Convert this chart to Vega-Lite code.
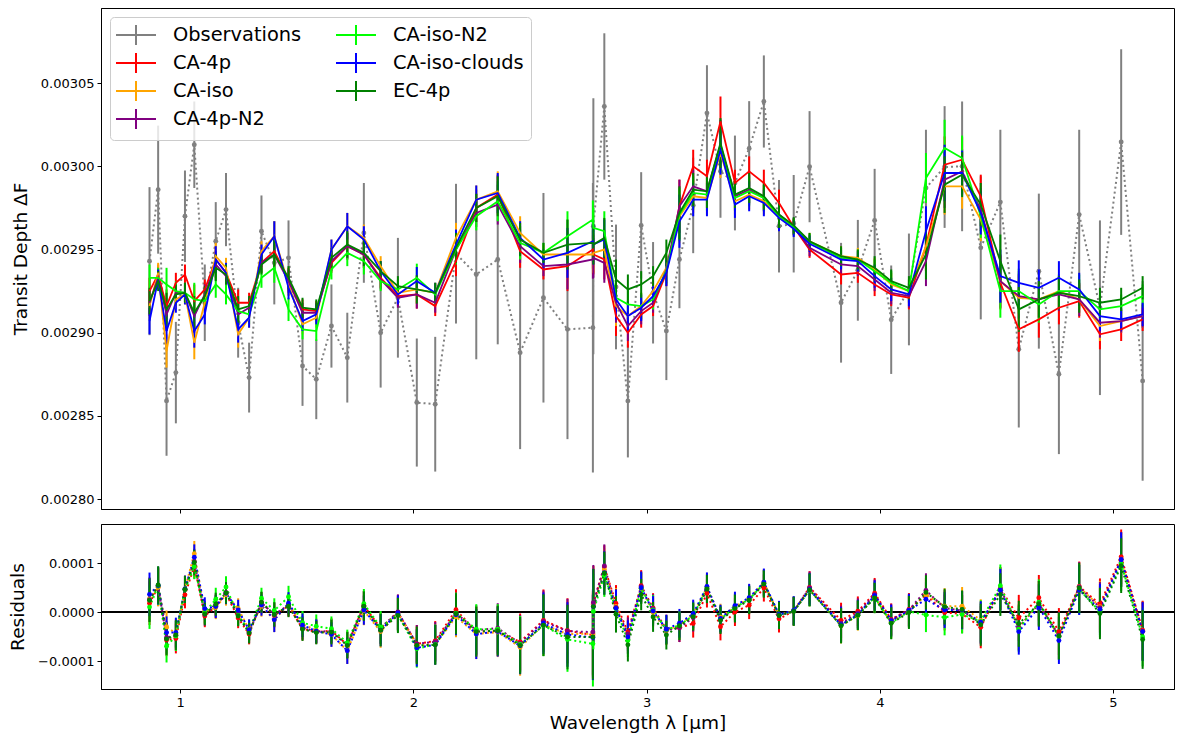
{
  "$schema": "https://vega.github.io/schema/vega-lite/v6.json",
  "padding": {"left": 8, "top": 7, "right": 5, "bottom": 4},
  "config": {
    "font": "DejaVu Sans",
    "view": {"stroke": "black", "strokeWidth": 1},
    "axis": {"labelFont": "DejaVu Sans", "titleFont": "DejaVu Sans", "labelFontSize": 13, "titleFontSize": 18.5, "titleFontWeight": "normal", "labelColor": "black", "titleColor": "black", "tickColor": "black", "domainColor": "black", "tickSize": 4, "labelPadding": 3, "grid": false},
    "legend": {"labelFont": "DejaVu Sans", "labelFontSize": 19.4, "labelColor": "black", "symbolType": "M-2,0H2M0,-1V1", "symbolSize": 400, "symbolStrokeWidth": 2, "symbolOffset": 8, "labelOffset": 26, "rowPadding": 0, "columnPadding": 30, "padding": 7, "fillColor": "rgba(255,255,255,0.8)", "strokeColor": "#cccccc", "cornerRadius": 4, "orient": "top-left", "offset": 9, "columns": 2, "labelLimit": 400}
  },
  "datasets": {
    "depth": [
      {"wl":0.869,"obs":0.002943,"oerr":0.0000445,"merr":0.000008,"CA-4p":0.002925,"CA-iso":0.002916,"CA-4p-N2":0.002918,"CA-iso-N2":0.002933,"CA-iso-clouds":0.002907,"EC-4p":0.002919},
      {"wl":0.906,"obs":0.002986,"oerr":0.0000385,"merr":0.000006,"CA-4p":0.002935,"CA-iso":0.002936,"CA-4p-N2":0.002933,"CA-iso-N2":0.002933,"CA-iso-clouds":0.002932,"EC-4p":0.002931},
      {"wl":0.942,"obs":0.002859,"oerr":0.000033,"merr":0.00001,"CA-4p":0.002916,"CA-iso":0.002889,"CA-4p-N2":0.002911,"CA-iso-N2":0.002929,"CA-iso-clouds":0.002901,"EC-4p":0.002914},
      {"wl":0.982,"obs":0.002876,"oerr":0.0000305,"merr":0.000006,"CA-4p":0.00293,"CA-iso":0.00292,"CA-4p-N2":0.002924,"CA-iso-N2":0.002925,"CA-iso-clouds":0.002918,"EC-4p":0.002923},
      {"wl":1.021,"obs":0.00297,"oerr":0.0000275,"merr":0.000006,"CA-4p":0.002935,"CA-iso":0.002923,"CA-4p-N2":0.002924,"CA-iso-N2":0.002924,"CA-iso-clouds":0.002923,"EC-4p":0.002924},
      {"wl":1.061,"obs":0.003013,"oerr":0.000026,"merr":0.00001,"CA-4p":0.002919,"CA-iso":0.002894,"CA-4p-N2":0.00291,"CA-iso-N2":0.00292,"CA-iso-clouds":0.002901,"EC-4p":0.002912},
      {"wl":1.106,"obs":0.002918,"oerr":0.000023,"merr":0.000006,"CA-4p":0.002926,"CA-iso":0.002918,"CA-4p-N2":0.002923,"CA-iso-N2":0.002919,"CA-iso-clouds":0.002911,"EC-4p":0.002922},
      {"wl":1.153,"obs":0.002955,"oerr":0.0000235,"merr":0.000008,"CA-4p":0.002944,"CA-iso":0.002946,"CA-4p-N2":0.002941,"CA-iso-N2":0.002929,"CA-iso-clouds":0.002944,"EC-4p":0.002939},
      {"wl":1.197,"obs":0.002974,"oerr":0.000022,"merr":0.000006,"CA-4p":0.002936,"CA-iso":0.002939,"CA-4p-N2":0.002934,"CA-iso-N2":0.002923,"CA-iso-clouds":0.002936,"EC-4p":0.002935},
      {"wl":1.249,"obs":0.002906,"oerr":0.000021,"merr":0.000008,"CA-4p":0.002918,"CA-iso":0.002899,"CA-4p-N2":0.002911,"CA-iso-N2":0.002913,"CA-iso-clouds":0.002902,"EC-4p":0.002914},
      {"wl":1.296,"obs":0.002873,"oerr":0.000021,"merr":0.000006,"CA-4p":0.002918,"CA-iso":0.002909,"CA-4p-N2":0.002915,"CA-iso-N2":0.002911,"CA-iso-clouds":0.002909,"EC-4p":0.002916},
      {"wl":1.349,"obs":0.002961,"oerr":0.0000215,"merr":0.000006,"CA-4p":0.002942,"CA-iso":0.002949,"CA-4p-N2":0.002942,"CA-iso-N2":0.002933,"CA-iso-clouds":0.002947,"EC-4p":0.002941},
      {"wl":1.404,"obs":0.002942,"oerr":0.000025,"merr":0.000009,"CA-4p":0.002949,"CA-iso":0.002958,"CA-4p-N2":0.002947,"CA-iso-N2":0.002939,"CA-iso-clouds":0.002958,"EC-4p":0.002947},
      {"wl":1.465,"obs":0.002945,"oerr":0.0000225,"merr":0.000007,"CA-4p":0.002932,"CA-iso":0.002929,"CA-4p-N2":0.002931,"CA-iso-N2":0.002914,"CA-iso-clouds":0.002927,"EC-4p":0.002933},
      {"wl":1.525,"obs":0.00288,"oerr":0.000024,"merr":0.000006,"CA-4p":0.002914,"CA-iso":0.002905,"CA-4p-N2":0.002912,"CA-iso-N2":0.002902,"CA-iso-clouds":0.002907,"EC-4p":0.002915},
      {"wl":1.584,"obs":0.002872,"oerr":0.000024,"merr":0.000006,"CA-4p":0.002913,"CA-iso":0.002909,"CA-4p-N2":0.002912,"CA-iso-N2":0.002901,"CA-iso-clouds":0.002911,"EC-4p":0.002914},
      {"wl":1.649,"obs":0.002904,"oerr":0.000025,"merr":0.000006,"CA-4p":0.002942,"CA-iso":0.00295,"CA-4p-N2":0.002943,"CA-iso-N2":0.002938,"CA-iso-clouds":0.00295,"EC-4p":0.002945},
      {"wl":1.717,"obs":0.002885,"oerr":0.000027,"merr":0.000008,"CA-4p":0.002952,"CA-iso":0.002964,"CA-4p-N2":0.002952,"CA-iso-N2":0.002948,"CA-iso-clouds":0.002964,"EC-4p":0.002953},
      {"wl":1.788,"obs":0.00296,"oerr":0.00003,"merr":0.000008,"CA-4p":0.002947,"CA-iso":0.002957,"CA-4p-N2":0.002947,"CA-iso-N2":0.002943,"CA-iso-clouds":0.002956,"EC-4p":0.002948},
      {"wl":1.86,"obs":0.0029,"oerr":0.000033,"merr":0.000006,"CA-4p":0.002933,"CA-iso":0.00294,"CA-4p-N2":0.002932,"CA-iso-N2":0.002931,"CA-iso-clouds":0.002937,"EC-4p":0.002937},
      {"wl":1.934,"obs":0.002921,"oerr":0.000036,"merr":0.000006,"CA-4p":0.002922,"CA-iso":0.002924,"CA-4p-N2":0.002921,"CA-iso-N2":0.002926,"CA-iso-clouds":0.002923,"EC-4p":0.002928},
      {"wl":2.015,"obs":0.002858,"oerr":0.0000385,"merr":0.0000085,"CA-4p":0.002923,"CA-iso":0.002926,"CA-4p-N2":0.002923,"CA-iso-N2":0.002933,"CA-iso-clouds":0.002931,"EC-4p":0.002926},
      {"wl":2.094,"obs":0.002857,"oerr":0.0000405,"merr":0.000006,"CA-4p":0.002916,"CA-iso":0.002924,"CA-4p-N2":0.002918,"CA-iso-N2":0.002923,"CA-iso-clouds":0.002924,"EC-4p":0.002924},
      {"wl":2.183,"obs":0.0029475,"oerr":0.000042,"merr":0.000009,"CA-4p":0.002943,"CA-iso":0.002957,"CA-4p-N2":0.00295,"CA-iso-N2":0.00295,"CA-iso-clouds":0.002953,"EC-4p":0.002951},
      {"wl":2.27,"obs":0.002935,"oerr":0.000051,"merr":0.0000085,"CA-4p":0.002975,"CA-iso":0.00298,"CA-4p-N2":0.002972,"CA-iso-N2":0.00297,"CA-iso-clouds":0.00298,"EC-4p":0.002975},
      {"wl":2.362,"obs":0.002944,"oerr":0.000051,"merr":0.000012,"CA-4p":0.002983,"CA-iso":0.002985,"CA-4p-N2":0.002977,"CA-iso-N2":0.002979,"CA-iso-clouds":0.002984,"EC-4p":0.002982},
      {"wl":2.458,"obs":0.002888,"oerr":0.000058,"merr":0.00001,"CA-4p":0.002949,"CA-iso":0.00296,"CA-4p-N2":0.002952,"CA-iso-N2":0.002954,"CA-iso-clouds":0.002957,"EC-4p":0.002956},
      {"wl":2.558,"obs":0.002921,"oerr":0.000063,"merr":0.000006,"CA-4p":0.002938,"CA-iso":0.002947,"CA-4p-N2":0.00294,"CA-iso-N2":0.002948,"CA-iso-clouds":0.002944,"EC-4p":0.002948},
      {"wl":2.661,"obs":0.002902,"oerr":0.000066,"merr":0.000015,"CA-4p":0.00294,"CA-iso":0.002947,"CA-4p-N2":0.002941,"CA-iso-N2":0.002958,"CA-iso-clouds":0.002948,"EC-4p":0.002953},
      {"wl":2.77,"obs":0.002903,"oerr":0.000087,"merr":0.0000115,"CA-4p":0.00295,"CA-iso":0.002947,"CA-4p-N2":0.002944,"CA-iso-N2":0.002968,"CA-iso-clouds":0.002955,"EC-4p":0.002954},
      {"wl":2.772,"obs":0.002964,"oerr":0.000077,"merr":0.000012,"CA-4p":0.002947,"CA-iso":0.002948,"CA-4p-N2":0.002945,"CA-iso-N2":0.002963,"CA-iso-clouds":0.002953,"EC-4p":0.002953},
      {"wl":2.819,"obs":0.003036,"oerr":0.000044,"merr":0.000012,"CA-4p":0.002944,"CA-iso":0.00295,"CA-4p-N2":0.002942,"CA-iso-N2":0.002961,"CA-iso-clouds":0.002956,"EC-4p":0.002957},
      {"wl":2.869,"obs":0.0029275,"oerr":0.0000375,"merr":0.000012,"CA-4p":0.00291,"CA-iso":0.002916,"CA-4p-N2":0.002918,"CA-iso-N2":0.002921,"CA-iso-clouds":0.00292,"EC-4p":0.002932},
      {"wl":2.92,"obs":0.002859,"oerr":0.000034,"merr":0.000009,"CA-4p":0.0029,"CA-iso":0.00291,"CA-4p-N2":0.002904,"CA-iso-N2":0.002917,"CA-iso-clouds":0.00291,"EC-4p":0.002926},
      {"wl":2.977,"obs":0.0029645,"oerr":0.000032,"merr":0.000008,"CA-4p":0.002911,"CA-iso":0.002916,"CA-4p-N2":0.002913,"CA-iso-N2":0.002916,"CA-iso-clouds":0.002915,"EC-4p":0.002929},
      {"wl":3.028,"obs":0.002924,"oerr":0.0000305,"merr":0.000006,"CA-4p":0.002916,"CA-iso":0.002925,"CA-4p-N2":0.002918,"CA-iso-N2":0.00292,"CA-iso-clouds":0.002922,"EC-4p":0.002934},
      {"wl":3.085,"obs":0.002901,"oerr":0.0000295,"merr":0.000008,"CA-4p":0.002936,"CA-iso":0.002939,"CA-4p-N2":0.002938,"CA-iso-N2":0.002937,"CA-iso-clouds":0.002936,"EC-4p":0.002948},
      {"wl":3.141,"obs":0.002944,"oerr":0.0000293,"merr":0.000016,"CA-4p":0.002976,"CA-iso":0.00297,"CA-4p-N2":0.002976,"CA-iso-N2":0.002971,"CA-iso-clouds":0.002967,"EC-4p":0.002972},
      {"wl":3.2,"obs":0.0029765,"oerr":0.0000287,"merr":0.00001,"CA-4p":0.003,"CA-iso":0.002982,"CA-4p-N2":0.002988,"CA-iso-N2":0.002984,"CA-iso-clouds":0.00298,"EC-4p":0.002986},
      {"wl":3.259,"obs":0.003032,"oerr":0.0000288,"merr":0.00001,"CA-4p":0.002994,"CA-iso":0.002981,"CA-4p-N2":0.002985,"CA-iso-N2":0.002983,"CA-iso-clouds":0.00298,"EC-4p":0.002985},
      {"wl":3.317,"obs":0.002997,"oerr":0.0000279,"merr":0.000015,"CA-4p":0.003027,"CA-iso":0.003008,"CA-4p-N2":0.003013,"CA-iso-N2":0.003011,"CA-iso-clouds":0.00301,"EC-4p":0.003014},
      {"wl":3.379,"obs":0.00299,"oerr":0.0000285,"merr":0.000008,"CA-4p":0.00299,"CA-iso":0.002979,"CA-4p-N2":0.002982,"CA-iso-N2":0.002981,"CA-iso-clouds":0.002977,"EC-4p":0.002983},
      {"wl":3.44,"obs":0.0030107,"oerr":0.0000285,"merr":0.000009,"CA-4p":0.002997,"CA-iso":0.002983,"CA-4p-N2":0.002986,"CA-iso-N2":0.002985,"CA-iso-clouds":0.002982,"EC-4p":0.002987},
      {"wl":3.503,"obs":0.003039,"oerr":0.0000277,"merr":0.000008,"CA-4p":0.00299,"CA-iso":0.002979,"CA-4p-N2":0.002981,"CA-iso-N2":0.002981,"CA-iso-clouds":0.002978,"EC-4p":0.002982},
      {"wl":3.568,"obs":0.002964,"oerr":0.0000278,"merr":0.000008,"CA-4p":0.002978,"CA-iso":0.00297,"CA-4p-N2":0.002971,"CA-iso-N2":0.00297,"CA-iso-clouds":0.002969,"EC-4p":0.002971},
      {"wl":3.631,"obs":0.0029655,"oerr":0.0000293,"merr":0.000005,"CA-4p":0.0029635,"CA-iso":0.0029635,"CA-4p-N2":0.002964,"CA-iso-N2":0.0029635,"CA-iso-clouds":0.0029625,"EC-4p":0.0029645},
      {"wl":3.699,"obs":0.0029998,"oerr":0.0000334,"merr":0.000005,"CA-4p":0.00295,"CA-iso":0.002955,"CA-4p-N2":0.002951,"CA-iso-N2":0.0029545,"CA-iso-clouds":0.0029535,"EC-4p":0.002955},
      {"wl":3.834,"obs":0.002918,"oerr":0.000036,"merr":0.000006,"CA-4p":0.002935,"CA-iso":0.002946,"CA-4p-N2":0.002941,"CA-iso-N2":0.002945,"CA-iso-clouds":0.002944,"EC-4p":0.002946},
      {"wl":3.906,"obs":0.0029375,"oerr":0.0000303,"merr":0.000006,"CA-4p":0.002936,"CA-iso":0.002945,"CA-4p-N2":0.00294,"CA-iso-N2":0.002944,"CA-iso-clouds":0.002943,"EC-4p":0.002944},
      {"wl":3.978,"obs":0.0029675,"oerr":0.000031,"merr":0.000007,"CA-4p":0.002929,"CA-iso":0.002938,"CA-4p-N2":0.002932,"CA-iso-N2":0.002937,"CA-iso-clouds":0.002934,"EC-4p":0.002939},
      {"wl":4.049,"obs":0.0029078,"oerr":0.0000326,"merr":0.000007,"CA-4p":0.002923,"CA-iso":0.002929,"CA-4p-N2":0.002924,"CA-iso-N2":0.00293,"CA-iso-clouds":0.002926,"EC-4p":0.002931},
      {"wl":4.125,"obs":0.002926,"oerr":0.0000336,"merr":0.000007,"CA-4p":0.002921,"CA-iso":0.002925,"CA-4p-N2":0.002922,"CA-iso-N2":0.002925,"CA-iso-clouds":0.002923,"EC-4p":0.002927},
      {"wl":4.198,"obs":0.002987,"oerr":0.000035,"merr":0.000015,"CA-4p":0.002952,"CA-iso":0.002952,"CA-4p-N2":0.002943,"CA-iso-N2":0.002993,"CA-iso-clouds":0.002961,"EC-4p":0.002947},
      {"wl":4.278,"obs":0.0029996,"oerr":0.0000366,"merr":0.000017,"CA-4p":0.003001,"CA-iso":0.002988,"CA-4p-N2":0.002992,"CA-iso-N2":0.003011,"CA-iso-clouds":0.002996,"EC-4p":0.002989},
      {"wl":4.353,"obs":0.003,"oerr":0.000039,"merr":0.0000135,"CA-4p":0.003004,"CA-iso":0.002988,"CA-4p-N2":0.002997,"CA-iso-N2":0.003005,"CA-iso-clouds":0.002996,"EC-4p":0.002995},
      {"wl":4.433,"obs":0.002951,"oerr":0.000043,"merr":0.000013,"CA-4p":0.002982,"CA-iso":0.002968,"CA-4p-N2":0.002974,"CA-iso-N2":0.00297,"CA-iso-clouds":0.002972,"EC-4p":0.002977},
      {"wl":4.517,"obs":0.0029785,"oerr":0.0000435,"merr":0.000016,"CA-4p":0.00293,"CA-iso":0.002931,"CA-4p-N2":0.002931,"CA-iso-N2":0.002925,"CA-iso-clouds":0.002934,"EC-4p":0.002943},
      {"wl":4.596,"obs":0.00289,"oerr":0.000047,"merr":0.0000135,"CA-4p":0.002902,"CA-iso":0.002921,"CA-4p-N2":0.002922,"CA-iso-N2":0.002925,"CA-iso-clouds":0.00293,"EC-4p":0.002914},
      {"wl":4.682,"obs":0.002937,"oerr":0.0000466,"merr":0.000011,"CA-4p":0.002908,"CA-iso":0.00292,"CA-4p-N2":0.00292,"CA-iso-N2":0.002917,"CA-iso-clouds":0.002927,"EC-4p":0.00292},
      {"wl":4.768,"obs":0.002875,"oerr":0.000048,"merr":0.00001,"CA-4p":0.002915,"CA-iso":0.002925,"CA-4p-N2":0.002923,"CA-iso-N2":0.002925,"CA-iso-clouds":0.002933,"EC-4p":0.002924},
      {"wl":4.855,"obs":0.002971,"oerr":0.000051,"merr":0.00001,"CA-4p":0.002919,"CA-iso":0.00292,"CA-4p-N2":0.00292,"CA-iso-N2":0.002925,"CA-iso-clouds":0.002926,"EC-4p":0.002922},
      {"wl":4.944,"obs":0.002915,"oerr":0.0000525,"merr":0.000009,"CA-4p":0.002899,"CA-iso":0.002904,"CA-4p-N2":0.002906,"CA-iso-N2":0.002914,"CA-iso-clouds":0.00291,"EC-4p":0.002918},
      {"wl":5.035,"obs":0.0030146,"oerr":0.0000558,"merr":0.000007,"CA-4p":0.002902,"CA-iso":0.002907,"CA-4p-N2":0.002907,"CA-iso-N2":0.002916,"CA-iso-clouds":0.002908,"EC-4p":0.00292},
      {"wl":5.127,"obs":0.002871,"oerr":0.00006,"merr":0.000007,"CA-4p":0.002908,"CA-iso":0.00291,"CA-4p-N2":0.00291,"CA-iso-N2":0.002922,"CA-iso-clouds":0.002911,"EC-4p":0.002927}
    ],
    "resid": [
      {"wl":0.869,"oerr":0.0000445,"CA-4p":0.000018,"CA-iso":0.000027,"CA-4p-N2":0.000025,"CA-iso-N2":0.00001,"CA-iso-clouds":0.000036,"EC-4p":0.000024},
      {"wl":0.906,"oerr":0.0000385,"CA-4p":0.000051,"CA-iso":0.00005,"CA-4p-N2":0.000053,"CA-iso-N2":0.000053,"CA-iso-clouds":0.000054,"EC-4p":0.000055},
      {"wl":0.942,"oerr":0.000033,"CA-4p":-0.000057,"CA-iso":-0.00003,"CA-4p-N2":-0.000052,"CA-iso-N2":-0.00007,"CA-iso-clouds":-0.000042,"EC-4p":-0.000055},
      {"wl":0.982,"oerr":0.0000305,"CA-4p":-0.000054,"CA-iso":-0.000044,"CA-4p-N2":-0.000048,"CA-iso-N2":-0.000049,"CA-iso-clouds":-0.000042,"EC-4p":-0.000047},
      {"wl":1.021,"oerr":0.0000275,"CA-4p":0.000035,"CA-iso":0.000047,"CA-4p-N2":0.000046,"CA-iso-N2":0.000046,"CA-iso-clouds":0.000047,"EC-4p":0.000046},
      {"wl":1.061,"oerr":0.000026,"CA-4p":0.000094,"CA-iso":0.000119,"CA-4p-N2":0.000103,"CA-iso-N2":0.000093,"CA-iso-clouds":0.000112,"EC-4p":0.000101},
      {"wl":1.106,"oerr":0.000023,"CA-4p":-0.000008,"CA-iso":0,"CA-4p-N2":-0.000005,"CA-iso-N2":-0.000001,"CA-iso-clouds":0.000007,"EC-4p":-0.000004},
      {"wl":1.153,"oerr":0.0000235,"CA-4p":0.000011,"CA-iso":0.000009,"CA-4p-N2":0.000014,"CA-iso-N2":0.000026,"CA-iso-clouds":0.000011,"EC-4p":0.000016},
      {"wl":1.197,"oerr":0.000022,"CA-4p":0.000038,"CA-iso":0.000035,"CA-4p-N2":0.00004,"CA-iso-N2":0.000051,"CA-iso-clouds":0.000038,"EC-4p":0.000039},
      {"wl":1.249,"oerr":0.000021,"CA-4p":-0.000012,"CA-iso":0.000007,"CA-4p-N2":-0.000005,"CA-iso-N2":-0.000007,"CA-iso-clouds":0.000004,"EC-4p":-0.000008},
      {"wl":1.296,"oerr":0.000021,"CA-4p":-0.000045,"CA-iso":-0.000036,"CA-4p-N2":-0.000042,"CA-iso-N2":-0.000038,"CA-iso-clouds":-0.000036,"EC-4p":-0.000043},
      {"wl":1.349,"oerr":0.0000215,"CA-4p":0.000019,"CA-iso":0.000012,"CA-4p-N2":0.000019,"CA-iso-N2":0.000028,"CA-iso-clouds":0.000014,"EC-4p":0.00002},
      {"wl":1.404,"oerr":0.000025,"CA-4p":-0.000007,"CA-iso":-0.000016,"CA-4p-N2":-0.000005,"CA-iso-N2":0.000003,"CA-iso-clouds":-0.000016,"EC-4p":-0.000005},
      {"wl":1.465,"oerr":0.0000225,"CA-4p":0.000013,"CA-iso":0.000016,"CA-4p-N2":0.000014,"CA-iso-N2":0.000031,"CA-iso-clouds":0.000018,"EC-4p":0.000012},
      {"wl":1.525,"oerr":0.000024,"CA-4p":-0.000034,"CA-iso":-0.000025,"CA-4p-N2":-0.000032,"CA-iso-N2":-0.000022,"CA-iso-clouds":-0.000027,"EC-4p":-0.000035},
      {"wl":1.584,"oerr":0.000024,"CA-4p":-0.000041,"CA-iso":-0.000037,"CA-4p-N2":-0.00004,"CA-iso-N2":-0.000029,"CA-iso-clouds":-0.000039,"EC-4p":-0.000042},
      {"wl":1.649,"oerr":0.000025,"CA-4p":-0.000038,"CA-iso":-0.000046,"CA-4p-N2":-0.000039,"CA-iso-N2":-0.000034,"CA-iso-clouds":-0.000046,"EC-4p":-0.000041},
      {"wl":1.717,"oerr":0.000027,"CA-4p":-0.000067,"CA-iso":-0.000079,"CA-4p-N2":-0.000067,"CA-iso-N2":-0.000063,"CA-iso-clouds":-0.000079,"EC-4p":-0.000068},
      {"wl":1.788,"oerr":0.00003,"CA-4p":0.000013,"CA-iso":0.000003,"CA-4p-N2":0.000013,"CA-iso-N2":0.000017,"CA-iso-clouds":0.000004,"EC-4p":0.000012},
      {"wl":1.86,"oerr":0.000033,"CA-4p":-0.000033,"CA-iso":-0.00004,"CA-4p-N2":-0.000032,"CA-iso-N2":-0.000031,"CA-iso-clouds":-0.000037,"EC-4p":-0.000037},
      {"wl":1.934,"oerr":0.000036,"CA-4p":-0.000001,"CA-iso":-0.000003,"CA-4p-N2":0,"CA-iso-N2":-0.000005,"CA-iso-clouds":-0.000002,"EC-4p":-0.000007},
      {"wl":2.015,"oerr":0.0000385,"CA-4p":-0.000065,"CA-iso":-0.000068,"CA-4p-N2":-0.000065,"CA-iso-N2":-0.000075,"CA-iso-clouds":-0.000073,"EC-4p":-0.000068},
      {"wl":2.094,"oerr":0.0000405,"CA-4p":-0.000059,"CA-iso":-0.000067,"CA-4p-N2":-0.000061,"CA-iso-N2":-0.000066,"CA-iso-clouds":-0.000067,"EC-4p":-0.000067},
      {"wl":2.183,"oerr":0.000042,"CA-4p":0.0000045,"CA-iso":-0.0000095,"CA-4p-N2":-0.0000025,"CA-iso-N2":-0.0000025,"CA-iso-clouds":-0.0000055,"EC-4p":-0.0000035},
      {"wl":2.27,"oerr":0.000051,"CA-4p":-0.00004,"CA-iso":-0.000045,"CA-4p-N2":-0.000037,"CA-iso-N2":-0.000035,"CA-iso-clouds":-0.000045,"EC-4p":-0.00004},
      {"wl":2.362,"oerr":0.000051,"CA-4p":-0.000039,"CA-iso":-0.000041,"CA-4p-N2":-0.000033,"CA-iso-N2":-0.000035,"CA-iso-clouds":-0.00004,"EC-4p":-0.000038},
      {"wl":2.458,"oerr":0.000058,"CA-4p":-0.000061,"CA-iso":-0.000072,"CA-4p-N2":-0.000064,"CA-iso-N2":-0.000066,"CA-iso-clouds":-0.000069,"EC-4p":-0.000068},
      {"wl":2.558,"oerr":0.000063,"CA-4p":-0.000017,"CA-iso":-0.000026,"CA-4p-N2":-0.000019,"CA-iso-N2":-0.000027,"CA-iso-clouds":-0.000023,"EC-4p":-0.000027},
      {"wl":2.661,"oerr":0.000066,"CA-4p":-0.000038,"CA-iso":-0.000045,"CA-4p-N2":-0.000039,"CA-iso-N2":-0.000056,"CA-iso-clouds":-0.000046,"EC-4p":-0.000051},
      {"wl":2.77,"oerr":0.000087,"CA-4p":-0.000047,"CA-iso":-0.000044,"CA-4p-N2":-0.000041,"CA-iso-N2":-0.000065,"CA-iso-clouds":-0.000052,"EC-4p":-0.000051},
      {"wl":2.772,"oerr":0.000077,"CA-4p":0.000017,"CA-iso":0.000016,"CA-4p-N2":0.000019,"CA-iso-N2":0.000001,"CA-iso-clouds":0.000011,"EC-4p":0.000011},
      {"wl":2.819,"oerr":0.000044,"CA-4p":0.000092,"CA-iso":0.000086,"CA-4p-N2":0.000094,"CA-iso-N2":0.000075,"CA-iso-clouds":0.00008,"EC-4p":0.000079},
      {"wl":2.869,"oerr":0.0000375,"CA-4p":0.0000175,"CA-iso":0.0000115,"CA-4p-N2":0.0000095,"CA-iso-N2":0.0000065,"CA-iso-clouds":0.0000075,"EC-4p":-0.0000045},
      {"wl":2.92,"oerr":0.000034,"CA-4p":-0.000041,"CA-iso":-0.000051,"CA-4p-N2":-0.000045,"CA-iso-N2":-0.000058,"CA-iso-clouds":-0.000051,"EC-4p":-0.000067},
      {"wl":2.977,"oerr":0.000032,"CA-4p":0.0000535,"CA-iso":0.0000485,"CA-4p-N2":0.0000515,"CA-iso-N2":0.0000485,"CA-iso-clouds":0.0000495,"EC-4p":0.0000355},
      {"wl":3.028,"oerr":0.0000305,"CA-4p":0.000008,"CA-iso":-0.000001,"CA-4p-N2":0.000006,"CA-iso-N2":0.000004,"CA-iso-clouds":0.000002,"EC-4p":-0.00001},
      {"wl":3.085,"oerr":0.0000295,"CA-4p":-0.000035,"CA-iso":-0.000038,"CA-4p-N2":-0.000037,"CA-iso-N2":-0.000036,"CA-iso-clouds":-0.000035,"EC-4p":-0.000047},
      {"wl":3.141,"oerr":0.0000293,"CA-4p":-0.000032,"CA-iso":-0.000026,"CA-4p-N2":-0.000032,"CA-iso-N2":-0.000027,"CA-iso-clouds":-0.000023,"EC-4p":-0.000028},
      {"wl":3.2,"oerr":0.0000287,"CA-4p":-0.0000235,"CA-iso":-0.0000055,"CA-4p-N2":-0.0000115,"CA-iso-N2":-0.0000075,"CA-iso-clouds":-0.0000035,"EC-4p":-0.0000095},
      {"wl":3.259,"oerr":0.0000288,"CA-4p":0.000038,"CA-iso":0.000051,"CA-4p-N2":0.000047,"CA-iso-N2":0.000049,"CA-iso-clouds":0.000052,"EC-4p":0.000047},
      {"wl":3.317,"oerr":0.0000279,"CA-4p":-0.00003,"CA-iso":-0.000011,"CA-4p-N2":-0.000016,"CA-iso-N2":-0.000014,"CA-iso-clouds":-0.000013,"EC-4p":-0.000017},
      {"wl":3.379,"oerr":0.0000285,"CA-4p":0,"CA-iso":0.000011,"CA-4p-N2":0.000008,"CA-iso-N2":0.000009,"CA-iso-clouds":0.000013,"EC-4p":0.000007},
      {"wl":3.44,"oerr":0.0000285,"CA-4p":0.000014,"CA-iso":0.000028,"CA-4p-N2":0.000025,"CA-iso-N2":0.000026,"CA-iso-clouds":0.000029,"EC-4p":0.000024},
      {"wl":3.503,"oerr":0.0000277,"CA-4p":0.000049,"CA-iso":0.00006,"CA-4p-N2":0.000058,"CA-iso-N2":0.000058,"CA-iso-clouds":0.000061,"EC-4p":0.000057},
      {"wl":3.568,"oerr":0.0000278,"CA-4p":-0.000014,"CA-iso":-0.000006,"CA-4p-N2":-0.000007,"CA-iso-N2":-0.000006,"CA-iso-clouds":-0.000005,"EC-4p":-0.000007},
      {"wl":3.631,"oerr":0.0000293,"CA-4p":0.000002,"CA-iso":0.000002,"CA-4p-N2":0.0000015,"CA-iso-N2":0.000002,"CA-iso-clouds":0.000003,"EC-4p":0.000001},
      {"wl":3.699,"oerr":0.0000334,"CA-4p":0.00005,"CA-iso":0.000045,"CA-4p-N2":0.000049,"CA-iso-N2":0.000045,"CA-iso-clouds":0.000046,"EC-4p":0.000045},
      {"wl":3.834,"oerr":0.000036,"CA-4p":-0.000017,"CA-iso":-0.000028,"CA-4p-N2":-0.000023,"CA-iso-N2":-0.000027,"CA-iso-clouds":-0.000026,"EC-4p":-0.000028},
      {"wl":3.906,"oerr":0.0000303,"CA-4p":0.0000015,"CA-iso":-0.0000075,"CA-4p-N2":-0.0000025,"CA-iso-N2":-0.0000065,"CA-iso-clouds":-0.0000055,"EC-4p":-0.0000065},
      {"wl":3.978,"oerr":0.000031,"CA-4p":0.0000385,"CA-iso":0.0000295,"CA-4p-N2":0.0000355,"CA-iso-N2":0.0000305,"CA-iso-clouds":0.0000335,"EC-4p":0.0000285},
      {"wl":4.049,"oerr":0.0000326,"CA-4p":-0.000015,"CA-iso":-0.000021,"CA-4p-N2":-0.000016,"CA-iso-N2":-0.000022,"CA-iso-clouds":-0.000018,"EC-4p":-0.000023},
      {"wl":4.125,"oerr":0.0000336,"CA-4p":0.000005,"CA-iso":0.000001,"CA-4p-N2":0.000004,"CA-iso-N2":0.000001,"CA-iso-clouds":0.000003,"EC-4p":-0.000001},
      {"wl":4.198,"oerr":0.000035,"CA-4p":0.000035,"CA-iso":0.000035,"CA-4p-N2":0.000044,"CA-iso-N2":-0.000006,"CA-iso-clouds":0.000026,"EC-4p":0.00004},
      {"wl":4.278,"oerr":0.0000366,"CA-4p":-0.000001,"CA-iso":0.000012,"CA-4p-N2":0.000008,"CA-iso-N2":-0.000011,"CA-iso-clouds":0.000004,"EC-4p":0.000011},
      {"wl":4.353,"oerr":0.000039,"CA-4p":-0.000004,"CA-iso":0.000012,"CA-4p-N2":0.000003,"CA-iso-N2":-0.000005,"CA-iso-clouds":0.000004,"EC-4p":0.000005},
      {"wl":4.433,"oerr":0.000043,"CA-4p":-0.000031,"CA-iso":-0.000017,"CA-4p-N2":-0.000023,"CA-iso-N2":-0.000019,"CA-iso-clouds":-0.000021,"EC-4p":-0.000026},
      {"wl":4.517,"oerr":0.0000435,"CA-4p":0.0000485,"CA-iso":0.0000475,"CA-4p-N2":0.0000475,"CA-iso-N2":0.0000535,"CA-iso-clouds":0.0000445,"EC-4p":0.0000355},
      {"wl":4.596,"oerr":0.000047,"CA-4p":-0.000012,"CA-iso":-0.000031,"CA-4p-N2":-0.000032,"CA-iso-N2":-0.000035,"CA-iso-clouds":-0.00004,"EC-4p":-0.000024},
      {"wl":4.682,"oerr":0.0000466,"CA-4p":0.000029,"CA-iso":0.000017,"CA-4p-N2":0.000017,"CA-iso-N2":0.00002,"CA-iso-clouds":0.00001,"EC-4p":0.000017},
      {"wl":4.768,"oerr":0.000048,"CA-4p":-0.00004,"CA-iso":-0.00005,"CA-4p-N2":-0.000048,"CA-iso-N2":-0.00005,"CA-iso-clouds":-0.000058,"EC-4p":-0.000049},
      {"wl":4.855,"oerr":0.000051,"CA-4p":0.000052,"CA-iso":0.000051,"CA-4p-N2":0.000051,"CA-iso-N2":0.000046,"CA-iso-clouds":0.000045,"EC-4p":0.000049},
      {"wl":4.944,"oerr":0.0000525,"CA-4p":0.000016,"CA-iso":0.000011,"CA-4p-N2":0.000009,"CA-iso-N2":0.000001,"CA-iso-clouds":0.000005,"EC-4p":-0.000003},
      {"wl":5.035,"oerr":0.0000558,"CA-4p":0.0001126,"CA-iso":0.0001076,"CA-4p-N2":0.0001076,"CA-iso-N2":0.0000986,"CA-iso-clouds":0.0001066,"EC-4p":0.0000946},
      {"wl":5.127,"oerr":0.00006,"CA-4p":-0.000037,"CA-iso":-0.000039,"CA-4p-N2":-0.000039,"CA-iso-N2":-0.000051,"CA-iso-clouds":-0.00004,"EC-4p":-0.000056}
    ]
  },
  "spacing": 9,
  "resolve": {"scale": {"color": "independent"}, "legend": {"color": "independent"}},
  "vconcat": [
    {
      "width": 1073,
      "height": 501,
      "data": {"name": "depth"},
      "layer": [
        {
          "mark": {"type": "line", "strokeDash": [2, 3], "strokeWidth": 2},
          "encoding": {
            "x": {"field": "wl", "type": "quantitative", "scale": {"domain": [0.661, 5.2615], "nice": false, "zero": false}, "axis": {"values": [1, 2, 3, 4, 5], "labels": false, "title": null}},
            "y": {"field": "obs", "type": "quantitative", "title": "Transit Depth ΔF", "scale": {"domain": [0.002794, 0.0030952], "nice": false, "zero": false}, "axis": {"values": [0.0028, 0.00285, 0.0029, 0.00295, 0.003, 0.00305], "format": ".5f", "titlePadding": 10}},
            "color": {"datum": "Observations", "title": null, "scale": {"domain": ["Observations", "CA-4p", "CA-iso", "CA-4p-N2", "CA-iso-N2", "CA-iso-clouds", "EC-4p"], "range": ["#808080", "#ff0000", "#ffa500", "#800080", "#00ff00", "#0000ff", "#008000"]}, "legend": {"title": null}}
          }
        },
        {
          "mark": {"type": "errorbar", "thickness": 2},
          "encoding": {
            "x": {"field": "wl", "type": "quantitative", "title": null},
            "y": {"field": "obs", "type": "quantitative", "title": "Transit Depth ΔF"},
            "yError": {"field": "oerr"},
            "color": {"datum": "Observations", "title": null}
          }
        },
        {
          "mark": {"type": "point", "filled": true, "size": 24, "opacity": 1},
          "encoding": {
            "x": {"field": "wl", "type": "quantitative", "title": null},
            "y": {"field": "obs", "type": "quantitative", "title": "Transit Depth ΔF"},
            "color": {"datum": "Observations", "title": null}
          }
        },
        {
          "transform": [{"fold": ["CA-4p", "CA-iso", "CA-4p-N2", "CA-iso-N2", "CA-iso-clouds", "EC-4p"], "as": ["model", "val"]}],
          "layer": [
            {
              "mark": {"type": "errorbar", "thickness": 2},
              "encoding": {
                "x": {"field": "wl", "type": "quantitative", "title": null},
                "y": {"field": "val", "type": "quantitative", "title": "Transit Depth ΔF"},
                "yError": {"field": "merr"},
                "color": {"field": "model", "type": "nominal", "title": null}
              }
            },
            {
              "mark": {"type": "line", "strokeWidth": 1.8},
              "encoding": {
                "x": {"field": "wl", "type": "quantitative", "title": null},
                "y": {"field": "val", "type": "quantitative", "title": "Transit Depth ΔF"},
                "color": {"field": "model", "type": "nominal", "title": null}
              }
            }
          ]
        }
      ]
    },
    {
      "width": 1073,
      "height": 165,
      "layer": [
        {
          "data": {"values": [{}]},
          "mark": {"type": "rule", "color": "black", "strokeWidth": 1.8},
          "encoding": {"y": {"datum": 0, "type": "quantitative"}}
        },
        {
          "data": {"name": "resid"},
          "transform": [{"fold": ["CA-4p", "CA-iso", "CA-4p-N2", "CA-iso-N2", "CA-iso-clouds", "EC-4p"], "as": ["model", "val"]}],
          "layer": [
            {
              "mark": {"type": "errorbar", "thickness": 2},
              "encoding": {
                "x": {"field": "wl", "type": "quantitative", "title": "Wavelength λ [μm]", "scale": {"domain": [0.661, 5.2615], "nice": false, "zero": false}, "axis": {"values": [1, 2, 3, 4, 5], "format": "d", "titlePadding": 4}},
                "y": {"field": "val", "type": "quantitative", "title": "Residuals", "scale": {"domain": [-0.0001571, 0.0001796], "nice": false, "zero": false}, "axis": {"values": [-0.0001, 0, 0.0001], "format": ".4f", "titlePadding": 10}},
                "yError": {"field": "oerr"},
                "color": {"field": "model", "type": "nominal", "legend": null, "scale": {"domain": ["CA-4p", "CA-iso", "CA-4p-N2", "CA-iso-N2", "CA-iso-clouds", "EC-4p"], "range": ["#ff0000", "#ffa500", "#800080", "#00ff00", "#0000ff", "#008000"]}}
              }
            },
            {
              "mark": {"type": "line", "strokeDash": [2, 3], "strokeWidth": 2},
              "encoding": {
                "x": {"field": "wl", "type": "quantitative", "title": "Wavelength λ [μm]"},
                "y": {"field": "val", "type": "quantitative", "title": "Residuals"},
                "color": {"field": "model", "type": "nominal", "legend": null}
              }
            },
            {
              "mark": {"type": "point", "filled": true, "size": 24, "opacity": 1},
              "encoding": {
                "x": {"field": "wl", "type": "quantitative", "title": "Wavelength λ [μm]"},
                "y": {"field": "val", "type": "quantitative", "title": "Residuals"},
                "color": {"field": "model", "type": "nominal", "legend": null}
              }
            }
          ]
        }
      ]
    }
  ]
}
